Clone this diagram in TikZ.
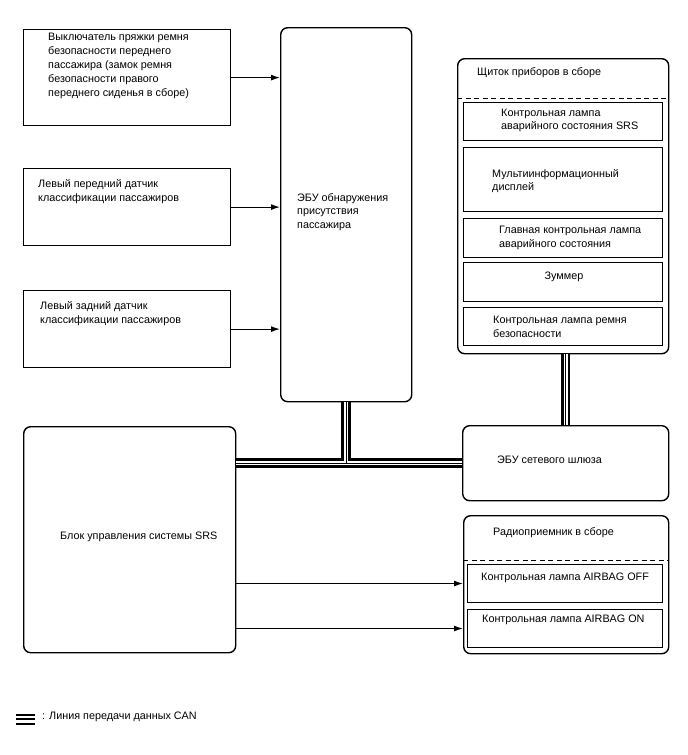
\documentclass[tikz,border=0pt]{standalone}
\usepackage{fontspec}
\setmainfont{Liberation Sans}
\usetikzlibrary{arrows.meta}

\begin{document}
\begin{tikzpicture}[
  x=1pt, y=-1pt,
  font=\fontsize{10.8}{13.8}\selectfont,
  box/.style={draw, line width=1.2pt, anchor=north west, inner sep=0pt},
  unit/.style={box, rounded corners=7pt, line width=1.4pt},
  part/.style={box, line width=1pt},
  txt/.style={anchor=west, align=left, inner sep=0pt},
  arrow/.style={-{Latex[length=9pt,width=6pt]}, line width=1.2pt},
  can/.style={draw=white, line width=4.2pt, preaction={draw=black, line width=9.5pt}, postaction={draw=black, line width=0.9pt}},
  sep/.style={dash pattern=on 5pt off 3.5pt, line width=1pt}
]
\useasboundingbox (0,0) rectangle (688,755);

% sensors and switch
\node[box, minimum width=207, minimum height=96] (buckle) at (23,29) {};
\node[txt] (buckletxt) at (48,66) {Выключатель пряжки ремня\\безопасности переднего\\пассажира (замок ремня\\безопасности правого\\переднего сиденья в сборе)};
\node[box, minimum width=207, minimum height=77] (frontsens) at (23,168) {};
\node[txt] (fronttxt) at (38,192) {Левый передний датчик\\классификации пассажиров};
\node[box, minimum width=207, minimum height=77] (rearsens) at (23,290) {};
\node[txt] (reartxt) at (40,314) {Левый задний датчик\\классификации пассажиров};

% occupant ECU
\node[unit, minimum width=131, minimum height=374] (occecu) at (280,27) {};
\node[txt] (occtxt) at (297,212) {ЭБУ обнаружения\\присутствия\\пассажира};

% combination meter
\node[unit, minimum width=211, minimum height=295] (meter) at (457,58) {};
\node[txt] (metertxt) at (477,73) {Щиток приборов в сборе};
\node[part, minimum width=199, minimum height=38] (srslamp) at (463,102) {};
\node[txt] at (501,120.5) {Контрольная лампа\\аварийного состояния SRS};
\node[part, minimum width=199, minimum height=64] (mid) at (463,147) {};
\node[txt] at (492,181) {Мультиинформационный\\дисплей};
\node[part, minimum width=199, minimum height=39] (master) at (463,218) {};
\node[txt] at (499,238) {Главная контрольная лампа\\аварийного состояния};
\node[part, minimum width=199, minimum height=39] (buzzer) at (463,262) {};
\node[inner sep=0pt] at (564,277) {Зуммер};
\node[part, minimum width=199, minimum height=38] (beltlamp) at (463,307) {};
\node[txt] at (493,327) {Контрольная лампа ремня\\безопасности};
\draw[sep] (meter.west |- 0,98) -- (meter.east |- 0,98);

% gateway and airbag
\node[unit, minimum width=206, minimum height=75] (gateway) at (462,425) {};
\node[txt] (gwtxt) at (497,460) {ЭБУ сетевого шлюза};
\node[unit, minimum width=212, minimum height=226] (srsecu) at (23,426) {};
\node[txt] (srstxt) at (60,537) {Блок управления системы SRS};

% radio
\node[unit, minimum width=205, minimum height=138] (radio) at (463,515) {};
\node[txt] (radiotxt) at (493,533) {Радиоприемник в сборе};
\node[part, minimum width=195, minimum height=38] (offlamp) at (467,564) {};
\node[txt] at (481,578) {Контрольная лампа AIRBAG OFF};
\node[part, minimum width=195, minimum height=38] (onlamp) at (467,609) {};
\node[txt] at (482,620) {Контрольная лампа AIRBAG ON};
\draw[sep] (radio.west |- 0,560) -- (radio.east |- 0,560);

% signal lines
\draw[arrow] (buckle) -- (buckle -| occecu.west);
\draw[arrow] (frontsens) -- (frontsens -| occecu.west);
\draw[arrow] (rearsens) -- (rearsens -| occecu.west);
\draw[arrow] (srsecu.east |- offlamp) -- (offlamp -| radio.west);
\draw[arrow] (srsecu.east |- onlamp) -- (onlamp -| radio.west);

% CAN bus
\draw[can] (occecu.south) -- (occecu.south |- gateway.west)
  (srsecu.east |- gateway.west) -- (gateway.west);
\draw[can] (gateway.north) -- (gateway.north |- meter.south);

% legend
\coordinate (lgl) at (16,719);
\coordinate (lgr) at (35,719);
\draw[line width=2pt] ([yshift=-4.5]lgl) -- ([yshift=-4.5]lgr) (lgl) -- (lgr) ([yshift=4.5]lgl) -- ([yshift=4.5]lgr);
\node[txt] (lgtxt) at (42,717) {: Линия передачи данных CAN};
\end{tikzpicture}
\end{document}
